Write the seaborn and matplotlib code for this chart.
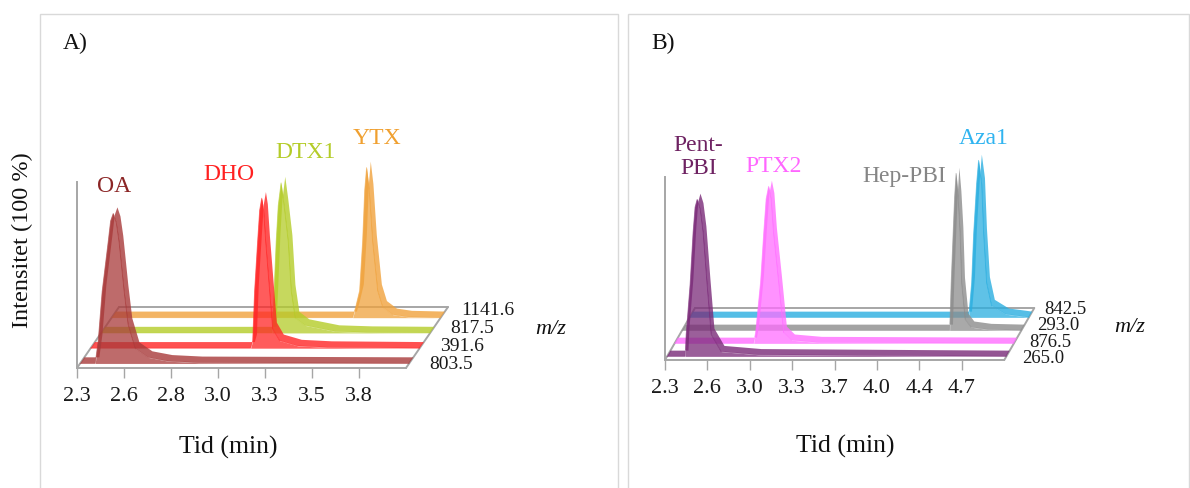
import numpy as np
import matplotlib
matplotlib.use("Agg")
import matplotlib.pyplot as plt
import seaborn as sns
import pandas as pd
from matplotlib.patches import Rectangle

sns.set_theme(style="white")
plt.rcParams["font.family"] = ["Liberation Serif", "DejaVu Serif"]

# ---------------- data ----------------
# Panel A
A_NAMES = ["OA", "DHO", "DTX1", "YTX"]
A_MZ = ["803.5", "391.6", "817.5", "1141.6"]
A_TICK_LABELS = ["2.3", "2.6", "2.8", "3.0", "3.3", "3.5", "3.8"]
A_COLORS = ["#a83a3a", "#ff2626", "#b4cc28", "#f0a23c"]
A_TEXT_COLORS = ["#8b2525", "#ff2020", "#b4cc28", "#f0a030"]

OA_T = [2.380, 2.396, 2.417, 2.449, 2.462, 2.476, 2.492, 2.507, 2.534, 2.555, 2.593, 2.662, 2.768, 2.928]
OA_I = [0.0, 0.15, 0.48, 0.81, 0.95, 1.0, 0.94, 0.81, 0.48, 0.26, 0.10, 0.04, 0.015, 0.005]
DHO_T = [3.151, 3.162, 3.172, 3.188, 3.199, 3.210, 3.220, 3.231, 3.252, 3.268, 3.305, 3.401, 3.561]
DHO_I = [0.0, 0.05, 0.38, 0.71, 0.92, 1.0, 0.92, 0.71, 0.38, 0.13, 0.05, 0.015, 0.005]
DTX1_T = [3.210, 3.220, 3.231, 3.242, 3.257, 3.273, 3.295, 3.311, 3.332, 3.385, 3.545, 3.720]
DTX1_I = [0.0, 0.28, 0.61, 0.85, 1.0, 0.85, 0.61, 0.28, 0.10, 0.05, 0.01, 0.003]
YTX_T = [3.582, 3.598, 3.619, 3.635, 3.646, 3.656, 3.670, 3.688, 3.715, 3.742, 3.795, 3.875]
YTX_I = [0.0, 0.07, 0.18, 0.51, 0.85, 1.0, 0.85, 0.51, 0.18, 0.07, 0.02, 0.005]

# Panel B
B_NAMES = ["Pent-\nPBI", "PTX2", "Hep-PBI", "Aza1"]
B_MZ = ["265.0", "876.5", "293.0", "842.5"]
B_TICK_LABELS = ["2.3", "2.6", "3.0", "3.3", "3.7", "4.0", "4.4", "4.7"]
B_COLORS = ["#7a2a78", "#ff6eff", "#8c8c8c", "#2aaee0"]
B_TEXT_COLORS = ["#6e2262", "#ff66ff", "#858585", "#30b4f0"]

PENT_T = [2.446, 2.454, 2.486, 2.510, 2.526, 2.543, 2.567, 2.591, 2.623, 2.656, 2.737, 3.036]
PENT_I = [0.0, 0.14, 0.46, 0.79, 0.95, 1.0, 0.94, 0.79, 0.46, 0.14, 0.03, 0.01]
PTX2_T = [2.939, 2.955, 2.995, 3.020, 3.040, 3.060, 3.080, 3.100, 3.141, 3.181, 3.246, 3.464]
PTX2_I = [0.0, 0.07, 0.39, 0.70, 0.92, 1.0, 0.92, 0.70, 0.39, 0.07, 0.02, 0.005]
HEP_T = [4.463, 4.475, 4.491, 4.503, 4.515, 4.531, 4.547, 4.560, 4.588, 4.636, 4.774]
HEP_I = [0.0, 0.30, 0.62, 0.85, 1.0, 0.85, 0.62, 0.30, 0.07, 0.02, 0.005]
AZA_T = [4.556, 4.580, 4.596, 4.620, 4.636, 4.661, 4.677, 4.701, 4.741, 4.855, 5.000]
AZA_I = [0.0, 0.22, 0.53, 0.85, 1.0, 0.85, 0.53, 0.22, 0.075, 0.02, 0.005]

# ---------------- figure ----------------
W, H, DPI = 1190, 488, 100
fig = plt.figure(figsize=(W / DPI, H / DPI), dpi=DPI)
PT = 72.0 / DPI  # points per pixel
GRAY = "#a6a6a6"


def fx(px):
    return px / W


def fy(py):
    return 1 - py / H


def draw_panel(x0_px, floor_y, px_per_min, px_per_unit, t0, step, tick_labels,
               n_int, ymax, depth_px, names, mzs, curves, colors, text_colors,
               label_offsets, mz_dx, ribbon_w, mz_size, mz_spread):
    t_end = t0 + step * n_int
    ax = fig.add_axes([fx(x0_px), fy(floor_y), (t_end - t0) * px_per_min / W,
                       ymax * px_per_unit / H])
    ax.set_xlim(t0, t_end)
    ax.set_ylim(0, ymax)
    ax.set_facecolor("none")
    KX = depth_px[0] / px_per_min
    KY = depth_px[1] / px_per_unit

    # floor outline
    ax.plot([t0, t0 + KX], [0, KY], color=GRAY, lw=1.4, clip_on=False, zorder=1)
    ax.plot([t0 + KX, t_end + KX], [KY, KY], color=GRAY, lw=1.4, clip_on=False, zorder=1)
    ax.plot([t_end, t_end + KX], [0, KY], color=GRAY, lw=1.4, clip_on=False, zorder=1)

    n = len(curves)
    for i in reversed(range(n)):
        t, inten = curves[i]
        t = np.concatenate([[t0], np.asarray(t, float), [t_end]])
        inten = np.concatenate([[0.0], np.asarray(inten, float), [0.0]])
        f = (i + 0.5) / n
        f1, f2 = f - ribbon_w / 2, f + ribbon_w / 2
        x1, y1 = t + f1 * KX, inten + f1 * KY
        x2, y2 = t + f2 * KX, inten + f2 * KY
        z = 3 + (n - i)
        # front face (area under the trace)
        ax.fill_between(x1, f1 * KY, y1, color=colors[i], alpha=0.75, lw=0,
                        clip_on=False, zorder=z)
        # ribbon top surface
        ax.fill(np.concatenate([x1, x2[::-1]]), np.concatenate([y1, y2[::-1]]),
                color=colors[i], alpha=0.8, lw=0, clip_on=False, zorder=z)
        df = pd.DataFrame({"t": x1, "I": y1})
        sns.lineplot(data=df, x="t", y="I", ax=ax, color=colors[i], lw=0.6,
                     alpha=0.6, sort=False, clip_on=False, zorder=z, legend=False)
        # peak label
        k = int(np.argmax(inten))
        dx, dy = label_offsets[i]
        ax.annotate(names[i], xy=(x2[k], y2[k]), xytext=(dx * PT, dy * PT),
                    textcoords="offset points", ha="center", va="center",
                    color=text_colors[i], fontsize=17, linespacing=1.12,
                    zorder=20, annotation_clip=False)
        # m/z label
        ax.annotate(mzs[i], xy=(t_end + f * KX, f * KY),
                    xytext=(mz_dx * PT, (i - (n - 1) / 2) * mz_spread * PT),
                    textcoords="offset points", ha="left", va="center",
                    color="#1a1a1a", fontsize=mz_size, zorder=20,
                    annotation_clip=False)

    ticks = [t0 + k * step for k in range(len(tick_labels))]
    ax.set_xticks(ticks)
    ax.set_xticklabels(tick_labels)
    ax.set_yticks([])
    ax.set_xlabel("")
    ax.set_ylabel("")
    ax.tick_params(axis="x", direction="out", length=10 * PT, width=1.0,
                   color=GRAY, labelsize=16, labelcolor="#1a1a1a", pad=9 * PT,
                   bottom=True)
    for s in ["top", "right"]:
        ax.spines[s].set_visible(False)
    for s in ["left", "bottom"]:
        ax.spines[s].set_visible(True)
        ax.spines[s].set_color(GRAY)
        ax.spines[s].set_linewidth(1.4)
        ax.spines[s].set_zorder(30)
    return ax


# panel frames
fig.add_artist(Rectangle((fx(40), -0.05), fx(618 - 40), fy(14) + 0.05, fill=False,
                         edgecolor="#d9d9d9", lw=1.0, transform=fig.transFigure))
fig.add_artist(Rectangle((fx(628), -0.05), fx(1189 - 628), fy(14) + 0.05, fill=False,
                         edgecolor="#d9d9d9", lw=1.0, transform=fig.transFigure))

draw_panel(77, 368, 188, 150, 2.3, 0.25, A_TICK_LABELS, 7, 1.24, (42, 61),
           A_NAMES, A_MZ,
           [(OA_T, OA_I), (DHO_T, DHO_I), (DTX1_T, DTX1_I), (YTX_T, YTX_I)],
           A_COLORS, A_TEXT_COLORS,
           [(-3, 21), (-37, 18), (20, 24), (6, 23)], 18, 0.1, 14, 3.0)

draw_panel(665, 360, 123.7, 157, 2.3, 2.4 / 7, B_TICK_LABELS, 8, 1.166, (30, 52),
           B_NAMES, B_MZ,
           [(PENT_T, PENT_I), (PTX2_T, PTX2_I), (HEP_T, HEP_I), (AZA_T, AZA_I)],
           B_COLORS, B_TEXT_COLORS,
           [(-2, 37), (2, 14), (-55, -9), (2, 16)], 14, 0.11, 13.5, 3.5)

# texts
fig.text(fx(63), fy(43), "A)", ha="left", va="center", fontsize=17, color="#111111")
fig.text(fx(651), fy(43), "B)", ha="left", va="center", fontsize=17, color="#111111")
fig.text(fx(22), fy(240), "Intensitet (100 %)", rotation=90, ha="center",
         va="center", fontsize=17.5, color="#111111")
fig.text(fx(228), fy(447), "Tid (min)", ha="center", va="center", fontsize=18.5,
         color="#111111")
fig.text(fx(845), fy(446), "Tid (min)", ha="center", va="center", fontsize=18.5,
         color="#111111")
fig.text(fx(551), fy(330), "m/z", ha="center", va="center", fontsize=16,
         style="italic", color="#111111")
fig.text(fx(1130), fy(327), "m/z", ha="center", va="center", fontsize=16,
         style="italic", color="#111111")

fig.savefig("out.png", dpi=DPI, facecolor="white")
